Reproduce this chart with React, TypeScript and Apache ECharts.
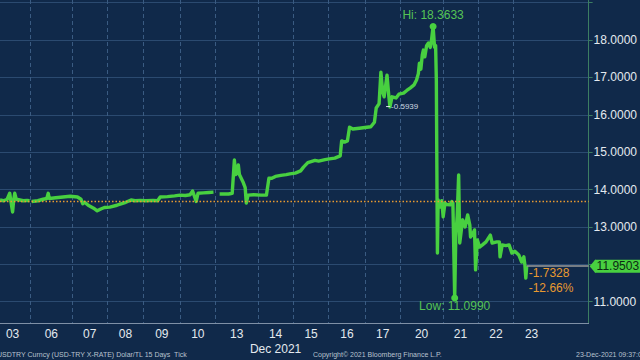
import React, { useEffect, useRef } from 'react';
import * as echarts from 'echarts';

// Trading days shown on the x axis (Dec 2021)
const DAY_LABELS = ['03', '06', '07', '08', '09', '10', '13', '14', '15', '16', '17', '20', '21', '22', '23'];
// Session start of each day on the (gap-adjusted) time scale, in day units
const DAY_STARTS = [0, 1, 2.15, 3.13, 4.14, 5.15, 6.14, 7.31, 8.3, 9.28, 10.29, 11.27, 12.45, 13.43, 14.42];
const LAST_DAY_END = 15.41;
const MONTH_LABEL = 'Dec 2021';
const MONTH_UNDER = '14';

const X_MIN = 0.15;
const X_MAX = 16.5;
const Y_MIN = 10.43;
const Y_MAX = 19.07;
// 12.0000 is hidden behind the last-price tag in the reference
const Y_LABELS = [11, 13, 14, 15, 16, 17, 18];
const Y_TICKS = [11, 12, 13, 14, 15, 16, 17, 18, 19];

const REF_PRICE = 13.6831; // price at start of window
const MID_NOTE = '-0.5939';
const MID_NOTE_AT: [number, number] = [10.93, 16.22];

// USDTRY ticks: [time, price]; null = no trading (gap)
const TICKS: [number, number | null][] = [
  [0.15, 13.72], [0.25, 13.7], [0.35, 13.74], [0.42, 13.9], [0.45, 13.7], [0.5, 13.4], [0.53, 13.72],
  [0.56, 13.9], [0.6, 13.74], [0.7, 13.72], [0.8, 13.7], [0.9, 13.71], [0.97, 13.7], [1.0, null],
  [1.03, 13.68], [1.2, 13.7], [1.35, 13.74], [1.45, 13.76], [1.49, 13.9], [1.52, 13.76], [1.7, 13.78],
  [1.9, 13.8], [2.1, 13.82], [2.3, 13.8], [2.4, 13.74], [2.45, 13.62], [2.5, 13.66], [2.6, 13.58],
  [2.75, 13.5], [2.85, 13.43], [2.95, 13.48], [3.05, 13.52], [3.2, 13.53], [3.4, 13.58], [3.6, 13.64],
  [3.79, 13.72], [3.9, 13.7], [4.05, 13.71], [4.2, 13.7], [4.4, 13.71], [4.53, 13.7], [4.6, 13.8],
  [4.8, 13.81], [5.0, 13.83], [5.15, 13.85], [5.3, 13.84], [5.43, 13.86], [5.5, 13.96], [5.55, 13.82],
  [5.6, 13.68], [5.65, 13.9], [5.8, 13.91], [5.95, 13.92], [6.08, 13.93], [6.15, null],
  [6.25, 13.88], [6.5, 13.88], [6.6, 13.9], [6.66, 14.79], [6.7, 14.4], [6.74, 14.45], [6.77, 14.66],
  [6.8, 14.4], [6.85, 14.3], [6.91, 14.18], [6.96, 14.05], [6.99, 13.64], [7.04, 13.85], [7.2, 13.86],
  [7.4, 13.85], [7.55, 13.85], [7.62, 14.3], [7.7, 14.3], [7.8, 14.35], [7.95, 14.38], [8.1, 14.4],
  [8.2, 14.42], [8.35, 14.44], [8.5, 14.5], [8.58, 14.6], [8.7, 14.72], [8.9, 14.78], [9.0, 14.76],
  [9.18, 14.8], [9.3, 14.82], [9.45, 14.84], [9.6, 14.9], [9.64, 15.3], [9.72, 15.27], [9.8, 15.3],
  [9.86, 15.67], [9.95, 15.62], [10.13, 15.64], [10.29, 15.66], [10.45, 15.68], [10.55, 15.8],
  [10.6, 16.18], [10.68, 16.3], [10.73, 17.14], [10.78, 16.6], [10.82, 16.48], [10.9, 17.06],
  [10.95, 16.5], [10.98, 16.21], [11.04, 16.48], [11.15, 16.45], [11.23, 16.55], [11.36, 16.58],
  [11.45, 16.65], [11.55, 16.72], [11.65, 16.8], [11.72, 16.93], [11.77, 17.1], [11.8, 17.38],
  [11.84, 17.22], [11.88, 17.6], [11.91, 17.73], [11.95, 17.55], [12.0, 17.85], [12.05, 17.92],
  [12.1, 17.8], [12.13, 17.95], [12.18, 18.3633], [12.22, 17.81], [12.25, 17.85],
  [12.27, 16.93], [12.29, 13.72], [12.3, 12.3], [12.32, 13.72], [12.37, 13.53], [12.42, 13.7],
  [12.46, 13.27], [12.51, 13.64], [12.56, 13.6], [12.65, 13.59], [12.7, 13.68], [12.73, 13.64],
  [12.78, 11.099], [12.81, 12.73], [12.85, 13.3], [12.89, 14.39], [12.92, 12.57], [13.0, 13.19],
  [13.07, 13.0], [13.14, 13.32], [13.2, 13.05], [13.22, 12.73], [13.3, 12.85], [13.33, 12.92],
  [13.36, 11.85], [13.41, 12.65], [13.47, 12.46], [13.55, 12.52], [13.65, 12.6], [13.77, 12.78],
  [13.82, 12.57], [13.95, 12.6], [14.02, 12.6], [14.04, 12.2], [14.1, 12.52], [14.2, 12.5],
  [14.29, 12.52], [14.37, 12.3], [14.45, 12.35], [14.56, 12.25], [14.64, 12.06], [14.7, 12.2],
  [14.73, 11.98], [14.755, 11.63], [14.78, 11.9503],
];

const FOOTER_LEFT = 'USDTRY Curncy (USD-TRY X-RATE) Dolar/TL 15 Days  Tick';
const FOOTER_MID = 'Copyright\u00a9 2021 Bloomberg Finance L.P.';
const FOOTER_RIGHT = '23-Dec-2021 09:37:03';

const BG = '#10294a';
const GREEN = '#48d040';
const LABEL_GREEN = '#55c455';
const ORANGE = '#e89a30';
const TEXT = '#e4e9ef';
const FONT = 'Liberation Sans';

export default function App() {
  const ref = useRef<HTMLDivElement>(null);

  useEffect(() => {
    const chart = echarts.init(ref.current!, null, { renderer: 'svg' });
    const data = TICKS.map(([t, v]) => [t, v === null ? '-' : v]);
    const last = TICKS[TICKS.length - 1] as [number, number];
    const change = last[1] - REF_PRICE;
    const pct = (change / REF_PRICE) * 100;
    const dayEnds = DAY_STARTS.slice(1).concat([LAST_DAY_END]);
    const mids = DAY_STARTS.map((s, i) => (s + dayEnds[i]) / 2);
    const labelFor = (v: number) => {
      let best = 0;
      mids.forEach((m, i) => {
        if (Math.abs(m - v) < Math.abs(mids[best] - v)) best = i;
      });
      const d = DAY_LABELS[best];
      return d === MONTH_UNDER ? d + '\n' + MONTH_LABEL : d;
    };

    chart.setOption({
      animation: false,
      backgroundColor: BG,
      textStyle: { fontFamily: FONT },
      grid: { left: 0, right: 41, top: 0, bottom: 37, containLabel: false },
      xAxis: {
        type: 'value',
        min: X_MIN,
        max: X_MAX,
        axisLine: { show: true, lineStyle: { color: '#7f90a6', width: 1 } },
        axisTick: { show: false, customValues: DAY_STARTS.slice(1) },
        axisLabel: {
          customValues: mids,
          formatter: (v: number) => labelFor(v),
          color: TEXT,
          fontSize: 12,
          lineHeight: 15,
          margin: 3,
          fontFamily: FONT,
        },
        splitLine: { show: true, lineStyle: { color: '#3a5b82', type: [4, 3], width: 1 } },
      },
      yAxis: {
        type: 'value',
        position: 'right',
        min: Y_MIN,
        max: Y_MAX,
        axisLine: { show: true, lineStyle: { color: '#3c7d62', width: 1 } },
        axisTick: { show: true, length: 4, customValues: Y_TICKS, lineStyle: { color: '#3c7d62' } },
        axisLabel: {
          customValues: Y_LABELS,
          formatter: (v: number) => v.toFixed(4),
          color: TEXT,
          fontSize: 12,
          margin: 5,
          fontFamily: FONT,
        },
        splitLine: { show: true, lineStyle: { color: '#2b4a70', width: 1 } },
      },
      series: [
        {
          type: 'line',
          data,
          showSymbol: false,
          connectNulls: false,
          lineStyle: { color: GREEN, width: 3.4, join: 'round' },
          itemStyle: { color: GREEN },
          markLine: {
            silent: true,
            symbol: 'none',
            animation: false,
            lineStyle: { color: ORANGE, type: [1.5, 2], width: 1.4, opacity: 1 },
            data: [
              {
                yAxis: REF_PRICE,
                lineStyle: { color: ORANGE, type: [1.5, 2], width: 1.4, opacity: 1 },
                label: { show: false },
              },
              [
                {
                  coord: [last[0], last[1]],
                  lineStyle: { color: '#9a9a9a', type: 'solid', width: 1.5 },
                  label: {
                    show: true,
                    position: 'end',
                    distance: 6,
                    formatter: last[1].toFixed(4),
                    backgroundColor: GREEN,
                    color: '#0b2a14',
                    fontSize: 12,
                    fontFamily: FONT,
                    padding: [1, 4, 0, 2],
                    borderRadius: 1,
                  },
                },
                { coord: [X_MAX, last[1]] },
              ],
            ],
          },
          markPoint: {
            silent: true,
            animation: false,
            data: [
              {
                type: 'max',
                symbol: 'circle',
                symbolSize: 7,
                itemStyle: { color: GREEN },
                label: {
                  show: true,
                  position: 'top',
                  distance: 2,
                  formatter: (p: any) => 'Hi: ' + Number(p.value).toFixed(4),
                  color: LABEL_GREEN,
                  fontSize: 12,
                  fontFamily: FONT,
                },
              },
              {
                type: 'min',
                symbol: 'circle',
                symbolSize: 7,
                itemStyle: { color: GREEN },
                label: {
                  show: true,
                  position: 'bottom',
                  distance: -1,
                  formatter: (p: any) => 'Low: ' + Number(p.value).toFixed(4),
                  color: LABEL_GREEN,
                  fontSize: 12,
                  fontFamily: FONT,
                },
              },
              {
                coord: [last[0], last[1]],
                symbol: 'circle',
                symbolSize: 2,
                itemStyle: { color: 'rgba(0,0,0,0)' },
                label: {
                  show: true,
                  position: [3, 0],
                  formatter: change.toFixed(4) + '\n' + pct.toFixed(2) + '%',
                  color: ORANGE,
                  fontSize: 12,
                  lineHeight: 15,
                  fontFamily: FONT,
                },
              },
              {
                coord: MID_NOTE_AT,
                symbol: 'rect',
                symbolSize: [4, 1],
                itemStyle: { color: '#dfe5ec' },
                label: {
                  show: true,
                  position: 'right',
                  distance: 1,
                  formatter: MID_NOTE,
                  color: '#cfd7e0',
                  fontSize: 8,
                  fontFamily: FONT,
                },
              },
            ],
          },
        },
      ],
      graphic: [
        {
          type: 'text',
          left: -3,
          top: 351,
          style: { text: FOOTER_LEFT, fill: '#b8c2ce', fontSize: 7, fontFamily: FONT },
        },
        {
          type: 'text',
          left: 313,
          top: 351,
          style: { text: FOOTER_MID, fill: '#b8c2ce', fontSize: 7, fontFamily: FONT },
        },
        {
          type: 'text',
          left: 576,
          top: 351,
          style: { text: FOOTER_RIGHT, fill: '#b8c2ce', fontSize: 7, fontFamily: FONT },
        },
      ],
    });

    const p = chart.convertToPixel({ gridIndex: 0 }, [X_MAX, last[1]]) as number[];
    if (p && isFinite(p[0])) {
      chart.setOption({
        graphic: [
          {
            id: 'arrow',
            type: 'polygon',
            shape: { points: [[p[0] + 1, p[1]], [p[0] + 7, p[1] - 7], [p[0] + 7, p[1] + 7]] },
            style: { fill: GREEN },
            z: 100,
          },
        ],
      });
    }

    return () => chart.dispose();
  }, []);

  return (
    <div
      ref={ref}
      style={{ position: 'fixed', left: 0, top: 0, width: 640, height: 360 }}
    />
  );
}
